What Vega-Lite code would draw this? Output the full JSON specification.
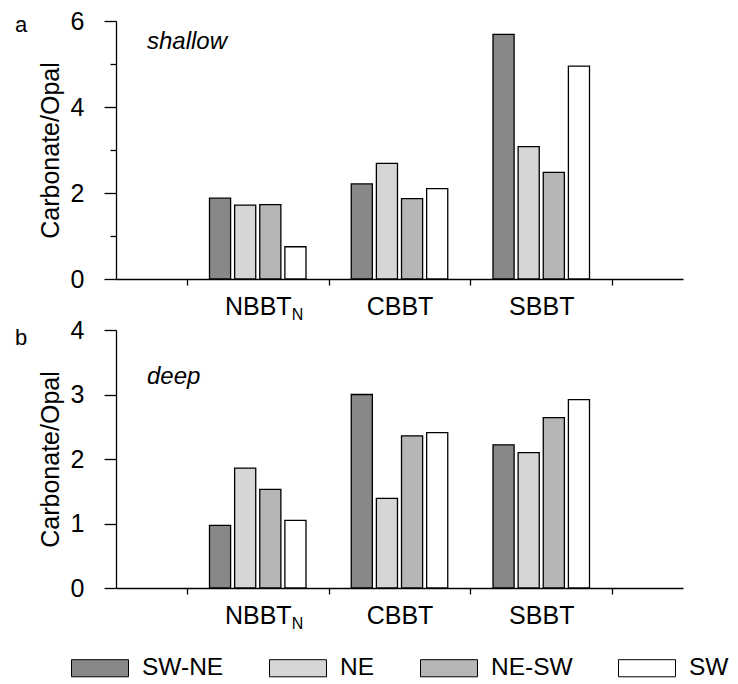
{
  "$schema": "https://vega.github.io/schema/vega-lite/v6.json",
  "padding": {"left": 15, "top": 9, "right": 0, "bottom": 0},
  "background": "white",
  "config": {
    "font": "Liberation Sans",
    "view": {"stroke": null},
    "axis": {
      "domainColor": "black", "tickColor": "black", "labelColor": "black", "titleColor": "black",
      "labelFont": "Liberation Sans", "titleFont": "Liberation Sans", "grid": false,
      "labelFontSize": 25, "titleFontSize": 25, "titleFontWeight": "normal",
      "domainWidth": 1.3, "tickWidth": 1.3
    }
  },
  "datasets": {
    "d": [
      {"depth": "shallow", "site": "NBBTN", "season": "SW-NE", "value": 1.88},
      {"depth": "shallow", "site": "NBBTN", "season": "NE", "value": 1.72},
      {"depth": "shallow", "site": "NBBTN", "season": "NE-SW", "value": 1.73},
      {"depth": "shallow", "site": "NBBTN", "season": "SW", "value": 0.75},
      {"depth": "shallow", "site": "CBBT", "season": "SW-NE", "value": 2.21},
      {"depth": "shallow", "site": "CBBT", "season": "NE", "value": 2.69},
      {"depth": "shallow", "site": "CBBT", "season": "NE-SW", "value": 1.87},
      {"depth": "shallow", "site": "CBBT", "season": "SW", "value": 2.10},
      {"depth": "shallow", "site": "SBBT", "season": "SW-NE", "value": 5.69},
      {"depth": "shallow", "site": "SBBT", "season": "NE", "value": 3.08},
      {"depth": "shallow", "site": "SBBT", "season": "NE-SW", "value": 2.48},
      {"depth": "shallow", "site": "SBBT", "season": "SW", "value": 4.95},
      {"depth": "deep", "site": "NBBTN", "season": "SW-NE", "value": 0.97},
      {"depth": "deep", "site": "NBBTN", "season": "NE", "value": 1.86},
      {"depth": "deep", "site": "NBBTN", "season": "NE-SW", "value": 1.53},
      {"depth": "deep", "site": "NBBTN", "season": "SW", "value": 1.05},
      {"depth": "deep", "site": "CBBT", "season": "SW-NE", "value": 3.00},
      {"depth": "deep", "site": "CBBT", "season": "NE", "value": 1.39},
      {"depth": "deep", "site": "CBBT", "season": "NE-SW", "value": 2.36},
      {"depth": "deep", "site": "CBBT", "season": "SW", "value": 2.41},
      {"depth": "deep", "site": "SBBT", "season": "SW-NE", "value": 2.22},
      {"depth": "deep", "site": "SBBT", "season": "NE", "value": 2.10},
      {"depth": "deep", "site": "SBBT", "season": "NE-SW", "value": 2.64},
      {"depth": "deep", "site": "SBBT", "season": "SW", "value": 2.92}
    ]
  },
  "spacing": -5,
  "vconcat": [
    {
      "width": 567, "height": 258,
      "layer": [
        {
          "data": {"name": "d"},
          "transform": [{"filter": "datum.depth === 'shallow'"}],
          "mark": {"type": "bar", "stroke": "black", "strokeWidth": 1.3},
          "encoding": {
            "x": {"field": "site", "type": "nominal", "sort": ["NBBTN", "CBBT", "SBBT"],
                  "scale": {"domain": ["NBBTN", "CBBT", "SBBT"], "paddingInner": 0, "paddingOuter": 0.5},
                  "axis": {"title": null, "labelAngle": 0, "tickBand": "extent", "tickSize": 6, "labelPadding": 9,
                           "labelExpr": "datum.label === 'NBBTN' ? 'NBBT' : datum.label"}},
            "xOffset": {"field": "season", "type": "nominal", "sort": ["SW-NE", "NE", "NE-SW", "SW"],
                        "scale": {"paddingInner": 0.16, "paddingOuter": 0.9}},
            "y": {"field": "value", "type": "quantitative", "scale": {"domain": [0, 6], "nice": false},
                  "axis": {"title": "Carbonate/Opal", "values": [0, 1, 2, 3, 4, 5, 6],
                           "labelExpr": "datum.value % 2 === 0 ? datum.label : ''",
                           "tickSize": {"condition": {"test": "datum.value % 2 === 0", "value": 12}, "value": 6},
                           "labelPadding": 20, "titlePadding": 7}},
            "color": {"field": "season", "type": "nominal", "sort": ["SW-NE", "NE", "NE-SW", "SW"],
                      "scale": {"domain": ["SW-NE", "NE", "NE-SW", "SW"], "range": ["#888888", "#d6d6d6", "#b6b6b6", "#ffffff"]},
                      "legend": {"orient": "none", "legendX": -31, "legendY": 632, "direction": "horizontal", "columns": 4,
                                 "title": null, "symbolType": "M-2,-0.6H2V0.6H-2Z", "symbolSize": 812,
                                 "symbolStrokeColor": "black", "symbolStrokeWidth": 1, "symbolOpacity": 1,
                                 "labelFontSize": 24.5, "labelFont": "Liberation Sans", "labelColor": "black",
                                 "labelOffset": 27, "columnPadding": 43, "labelLimit": 300}}
          }
        },
        {
          "data": {"values": [{"t": "shallow"}]},
          "mark": {"type": "text", "fontStyle": "italic", "fontSize": 24, "align": "left", "baseline": "alphabetic", "color": "black"},
          "encoding": {"text": {"field": "t"}, "x": {"value": 31}, "y": {"datum": 5.36}}
        },
        {
          "data": {"values": [{"t": "a"}]},
          "mark": {"type": "text", "fontSize": 22, "align": "left", "baseline": "alphabetic", "color": "black"},
          "encoding": {"text": {"field": "t"}, "x": {"value": -101}, "y": {"datum": 5.74}}
        },
        {
          "data": {"values": [{"t": "N", "site": "NBBTN"}]},
          "mark": {"type": "text", "fontSize": 16, "align": "left", "baseline": "alphabetic", "color": "black", "dx": 34},
          "encoding": {"text": {"field": "t"}, "x": {"field": "site", "type": "nominal", "sort": ["NBBTN", "CBBT", "SBBT"]}, "y": {"datum": -0.95}}
        }
      ]
    },
    {
      "width": 567, "height": 258,
      "layer": [
        {
          "data": {"name": "d"},
          "transform": [{"filter": "datum.depth === 'deep'"}],
          "mark": {"type": "bar", "stroke": "black", "strokeWidth": 1.3},
          "encoding": {
            "x": {"field": "site", "type": "nominal", "sort": ["NBBTN", "CBBT", "SBBT"],
                  "scale": {"domain": ["NBBTN", "CBBT", "SBBT"], "paddingInner": 0, "paddingOuter": 0.5},
                  "axis": {"title": null, "labelAngle": 0, "tickBand": "extent", "tickSize": 6, "labelPadding": 9,
                           "labelExpr": "datum.label === 'NBBTN' ? 'NBBT' : datum.label"}},
            "xOffset": {"field": "season", "type": "nominal", "sort": ["SW-NE", "NE", "NE-SW", "SW"],
                        "scale": {"paddingInner": 0.16, "paddingOuter": 0.9}},
            "y": {"field": "value", "type": "quantitative", "scale": {"domain": [0, 4], "nice": false},
                  "axis": {"title": "Carbonate/Opal", "values": [0, 0.5, 1, 1.5, 2, 2.5, 3, 3.5, 4], "format": "d",
                           "labelExpr": "datum.value % 1 === 0 ? datum.label : ''",
                           "tickSize": {"condition": {"test": "datum.value % 1 === 0", "value": 12}, "value": 6},
                           "labelPadding": 20, "titlePadding": 7}},
            "color": {"field": "season", "type": "nominal", "sort": ["SW-NE", "NE", "NE-SW", "SW"]}
          }
        },
        {
          "data": {"values": [{"t": "deep"}]},
          "mark": {"type": "text", "fontStyle": "italic", "fontSize": 24, "align": "left", "baseline": "alphabetic", "color": "black"},
          "encoding": {"text": {"field": "t"}, "x": {"value": 31}, "y": {"datum": 3.17}}
        },
        {
          "data": {"values": [{"t": "b"}]},
          "mark": {"type": "text", "fontSize": 22, "align": "left", "baseline": "alphabetic", "color": "black"},
          "encoding": {"text": {"field": "t"}, "x": {"value": -101}, "y": {"datum": 3.76}}
        },
        {
          "data": {"values": [{"t": "N", "site": "NBBTN"}]},
          "mark": {"type": "text", "fontSize": 16, "align": "left", "baseline": "alphabetic", "color": "black", "dx": 34},
          "encoding": {"text": {"field": "t"}, "x": {"field": "site", "type": "nominal", "sort": ["NBBTN", "CBBT", "SBBT"]}, "y": {"datum": -0.63}}
        }
      ]
    }
  ]
}
